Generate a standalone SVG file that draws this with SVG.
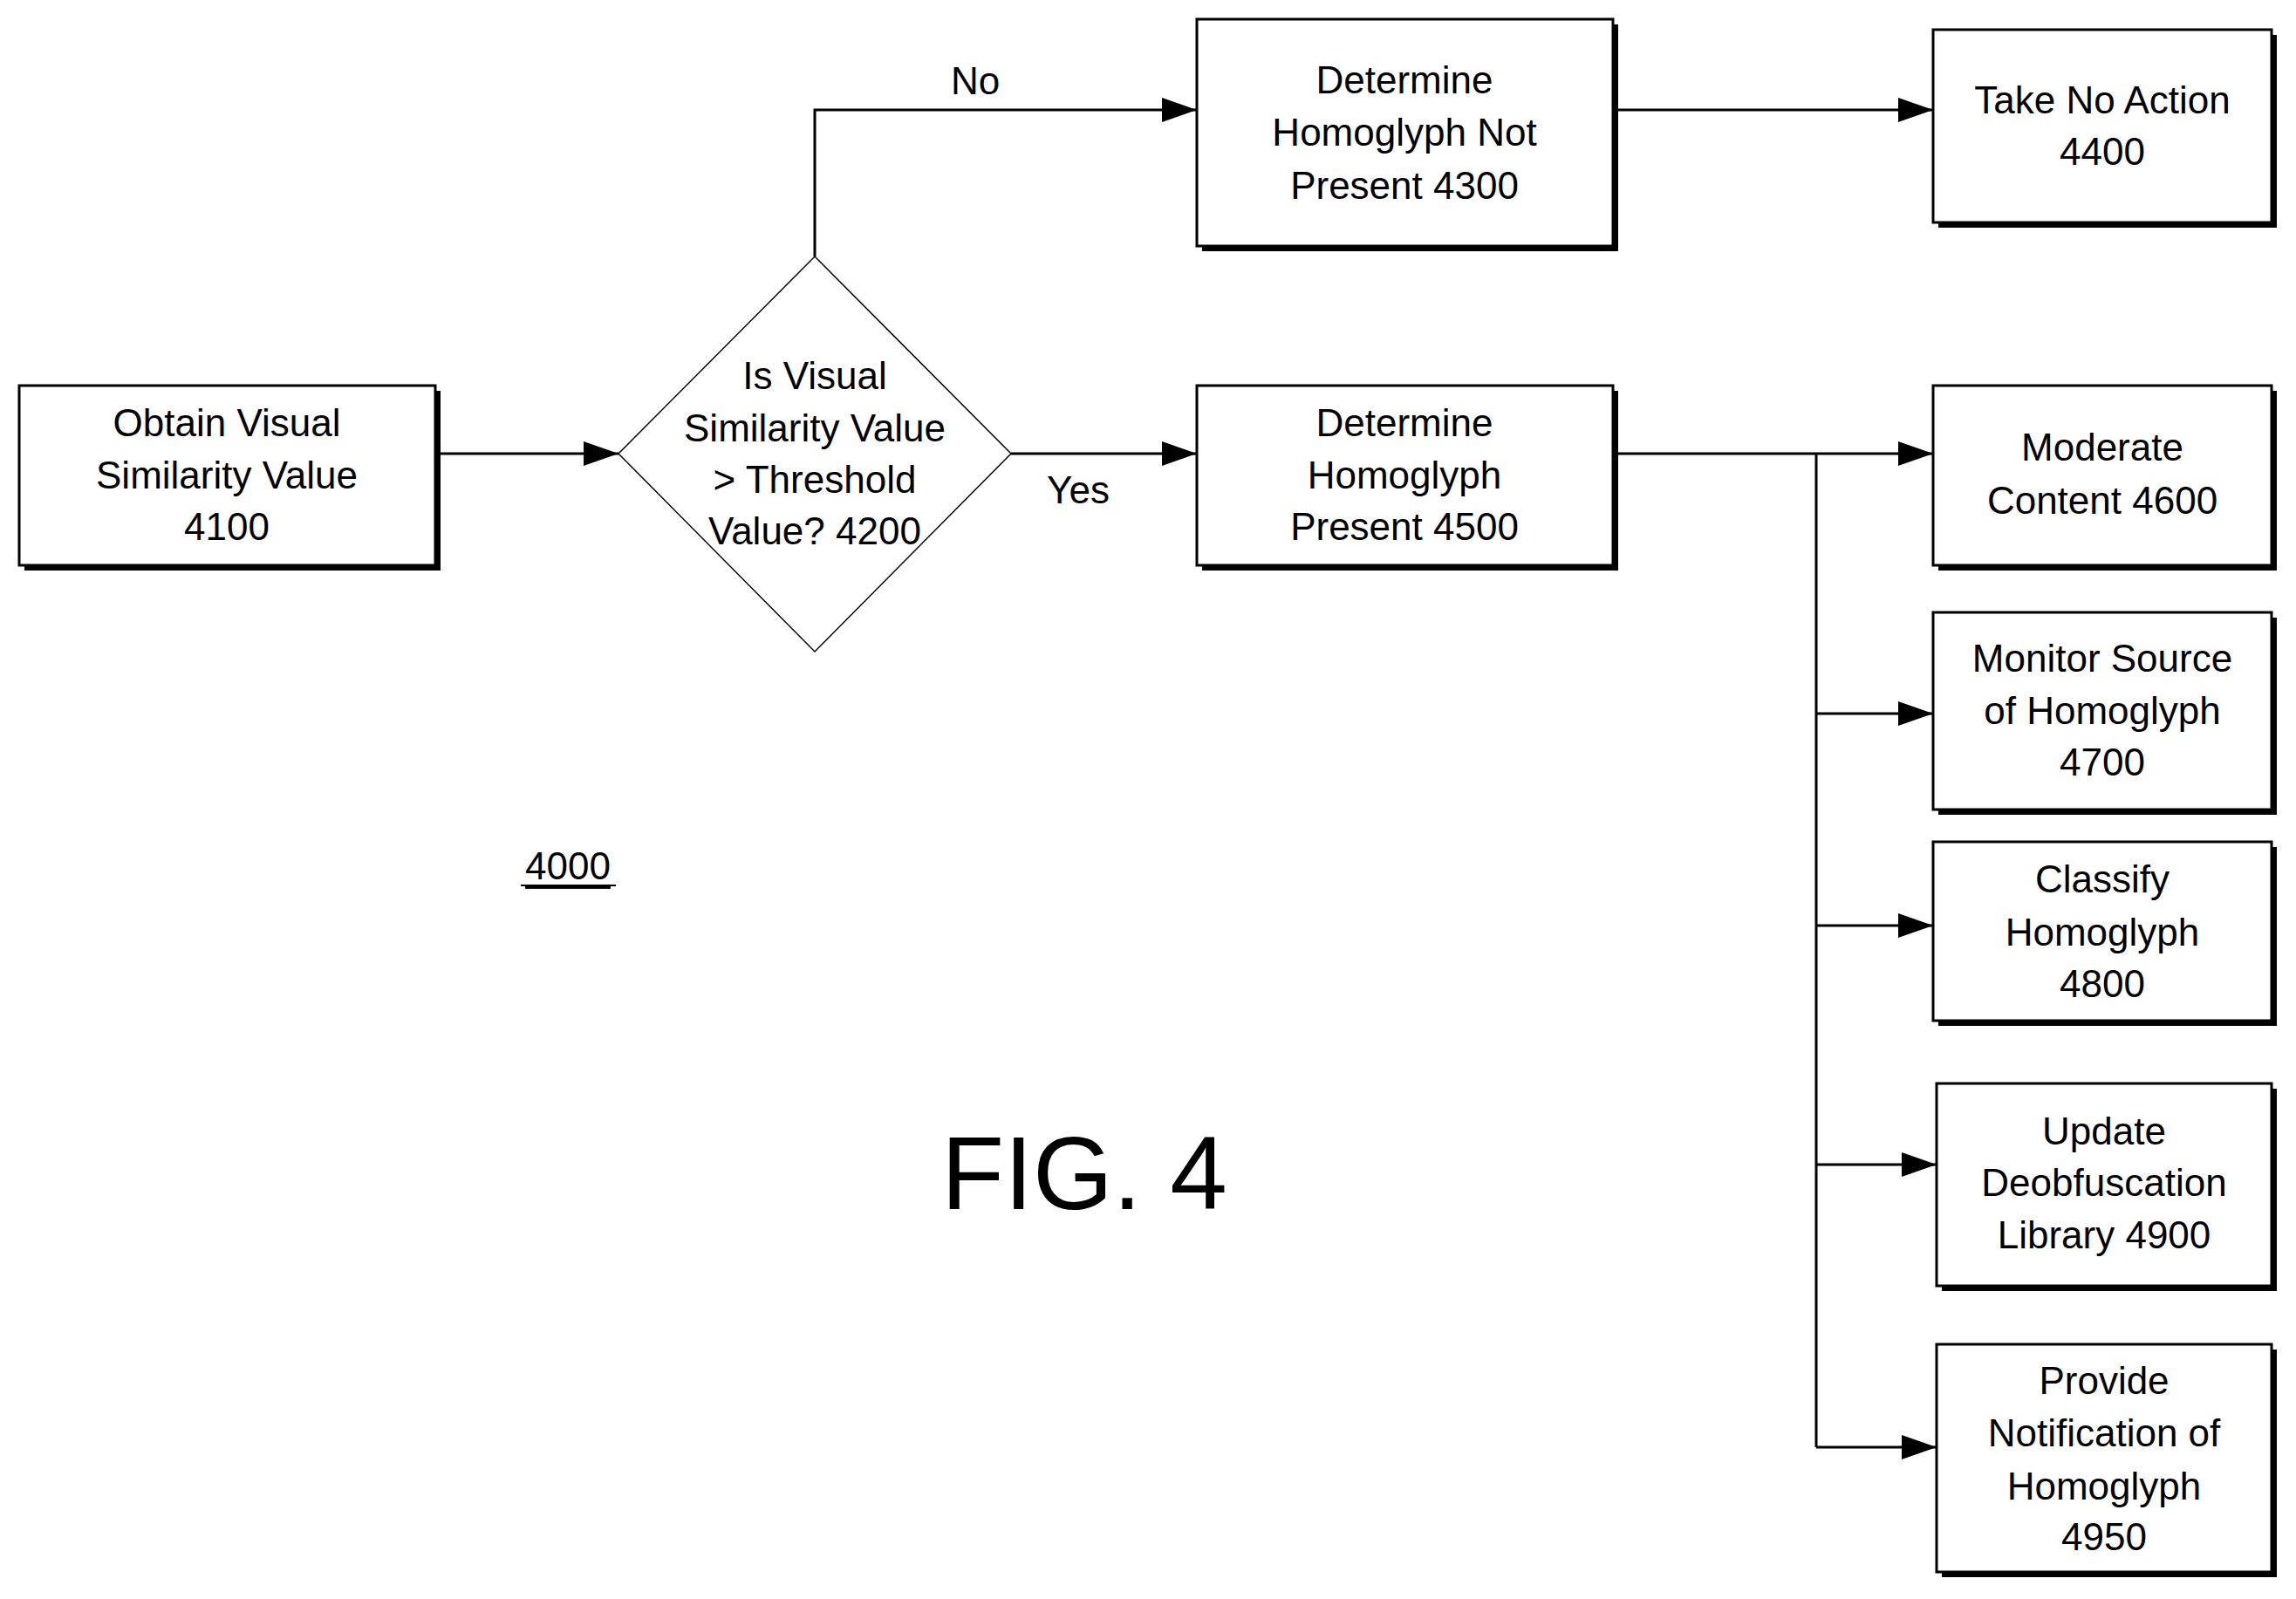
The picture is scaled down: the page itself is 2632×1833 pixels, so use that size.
<svg xmlns="http://www.w3.org/2000/svg" width="2632" height="1833" viewBox="0 0 2632 1833">
<style>
.b{fill:#fff;stroke:#000;stroke-width:3}
.s{fill:#000}
.t{font-family:"Liberation Sans",Arial,sans-serif;font-size:44px;text-anchor:middle;dominant-baseline:central;fill:#000}
.c{fill:none;stroke:#000;stroke-width:3}
</style>
<defs>
<marker id="a" markerWidth="14" markerHeight="12" refX="14" refY="6" orient="auto" markerUnits="userSpaceOnUse"><path d="M0,0L40,6L0,12z" transform="scale(0.35,1)"/><path d="M0,0L14,6L0,12z"/></marker>
<marker id="ar" markerWidth="40" markerHeight="28" refX="40" refY="14" orient="auto" markerUnits="userSpaceOnUse"><path d="M0,0L40,14L0,28z"/></marker>
</defs>
<rect width="2632" height="1833" fill="#fff"/>
<g id="connectors">
<path class="c" d="M499,520H709" marker-end="url(#ar)"/>
<path class="c" d="M934,294V126H1372" marker-end="url(#ar)"/>
<path class="c" d="M1159,520H1372" marker-end="url(#ar)"/>
<path class="c" d="M1849,126H2216" marker-end="url(#ar)"/>
<path class="c" d="M1849,520H2216" marker-end="url(#ar)"/>
<path class="c" d="M2082,520V1659"/>
<path class="c" d="M2082,818H2216" marker-end="url(#ar)"/>
<path class="c" d="M2082,1061H2216" marker-end="url(#ar)"/>
<path class="c" d="M2082,1335H2220" marker-end="url(#ar)"/>
<path class="c" d="M2082,1659H2220" marker-end="url(#ar)"/>
<text class="t" x="1118" y="92">No</text>
<text class="t" x="1236" y="561">Yes</text>
</g>
<g id="n4100"><rect class="s" x="28" y="448" width="477" height="206"/><rect class="b" x="22" y="442" width="477" height="206"/>
<text class="t" x="260" y="484">Obtain Visual</text><text class="t" x="260" y="544">Similarity Value</text><text class="t" x="260" y="603">4100</text></g>
<g id="n4200"><path d="M934,294L1159,520L934,747L709,520z" fill="#fff" stroke="#000" stroke-width="1.5"/>
<text class="t" x="934" y="430">Is Visual</text><text class="t" x="934" y="490">Similarity Value</text><text class="t" x="934" y="549">&gt; Threshold</text><text class="t" x="934" y="608">Value? 4200</text></g>
<g id="n4300"><rect class="s" x="1378" y="28" width="477" height="260"/><rect class="b" x="1372" y="22" width="477" height="260"/>
<text class="t" x="1610" y="91">Determine</text><text class="t" x="1610" y="151">Homoglyph Not</text><text class="t" x="1610" y="212">Present 4300</text></g>
<g id="n4400"><rect class="s" x="2222" y="40" width="388" height="221"/><rect class="b" x="2216" y="34" width="388" height="221"/>
<text class="t" x="2410" y="114">Take No Action</text><text class="t" x="2410" y="173">4400</text></g>
<g id="n4500"><rect class="s" x="1378" y="448" width="477" height="206"/><rect class="b" x="1372" y="442" width="477" height="206"/>
<text class="t" x="1610" y="484">Determine</text><text class="t" x="1610" y="544">Homoglyph</text><text class="t" x="1610" y="603">Present 4500</text></g>
<g id="n4600"><rect class="s" x="2222" y="448" width="388" height="206"/><rect class="b" x="2216" y="442" width="388" height="206"/>
<text class="t" x="2410" y="512">Moderate</text><text class="t" x="2410" y="573">Content 4600</text></g>
<g id="n4700"><rect class="s" x="2222" y="708" width="388" height="226"/><rect class="b" x="2216" y="702" width="388" height="226"/>
<text class="t" x="2410" y="754">Monitor Source</text><text class="t" x="2410" y="814">of Homoglyph</text><text class="t" x="2410" y="873">4700</text></g>
<g id="n4800"><rect class="s" x="2222" y="971" width="388" height="205"/><rect class="b" x="2216" y="965" width="388" height="205"/>
<text class="t" x="2410" y="1007">Classify</text><text class="t" x="2410" y="1068">Homoglyph</text><text class="t" x="2410" y="1127">4800</text></g>
<g id="n4900"><rect class="s" x="2226" y="1248" width="384" height="232"/><rect class="b" x="2220" y="1242" width="384" height="232"/>
<text class="t" x="2412" y="1296">Update</text><text class="t" x="2412" y="1355">Deobfuscation</text><text class="t" x="2412" y="1415">Library 4900</text></g>
<g id="n4950"><rect class="s" x="2226" y="1547" width="384" height="261"/><rect class="b" x="2220" y="1541" width="384" height="261"/>
<text class="t" x="2412" y="1582">Provide</text><text class="t" x="2412" y="1642">Notification of</text><text class="t" x="2412" y="1703">Homoglyph</text><text class="t" x="2412" y="1761">4950</text></g>
<g id="labels">
<text class="t" x="651" y="992" text-decoration="underline">4000</text>
<line x1="597" y1="1015" x2="706" y2="1015" stroke="#000" stroke-width="2"/>
<text class="t" x="1243" y="1345" style="font-size:118px">FIG. 4</text>
</g>
</svg>
